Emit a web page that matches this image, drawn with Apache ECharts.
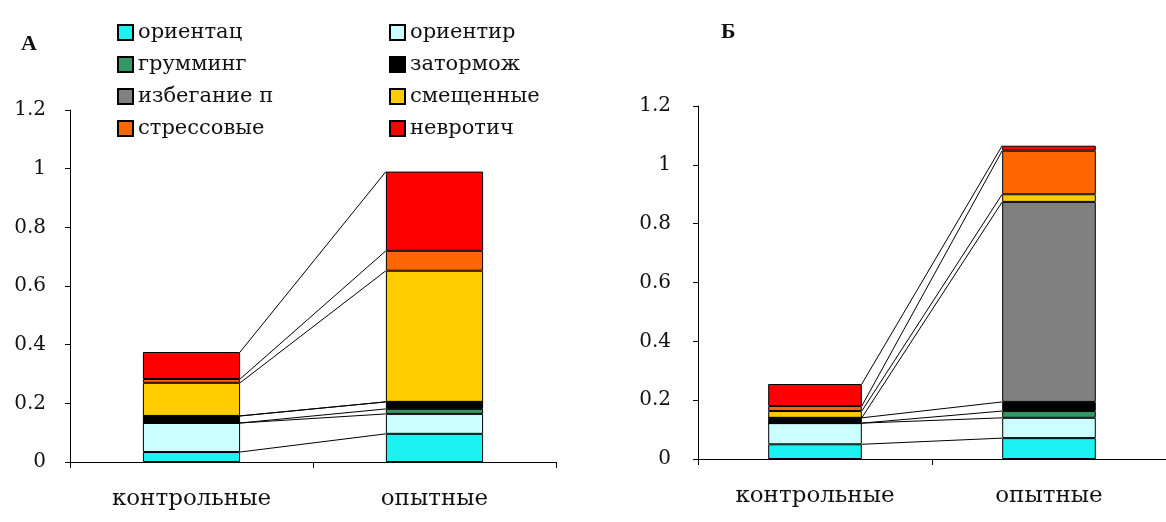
<!DOCTYPE html>
<html>
<head>
<meta charset="utf-8">
<script src="https://cdn.jsdelivr.net/npm/echarts@6/dist/echarts.min.js"></script>
<style>
  html, body { margin: 0; padding: 0; background: #fff; }
  #chart { width: 1166px; height: 522px; }
</style>
</head>
<body>
<div id="chart"></div>
<script>
// Behaviour categories (stack order, bottom to top)
const seriesNames = ['ориентац', 'ориентир', 'грумминг', 'затормож', 'избегание п', 'смещенные', 'стрессовые', 'невротич'];
const seriesColors = ['#1CF2F2', '#CCFFFF', '#339966', '#000000', '#808080', '#FFCC00', '#FF6600', '#FF0000'];
const groups = ['контрольные', 'опытные'];
const yTicks = ['0', '0.2', '0.4', '0.6', '0.8', '1', '1.2'];

// Panel А: per-category values for control and experimental groups
const controlA = [0.034, 0.099, 0, 0.024, 0, 0.113, 0.013, 0.092];
const experimentA = [0.096, 0.068, 0.017, 0.024, 0, 0.447, 0.068, 0.270];

// Panel Б
const controlB = [0.050, 0.072, 0, 0.018, 0, 0.023, 0.017, 0.075];
const experimentB = [0.071, 0.069, 0.023, 0.031, 0.680, 0.026, 0.148, 0.017];

const FONT = 'DejaVu Serif';
const BAR_FRACTION = 0.4;

function cumulative(arr) {
  let s = 0;
  return arr.map(v => (s += v));
}

function yAxisCfg(gridIndex, margin) {
  return {
    type: 'value', gridIndex, min: 0, max: 1.2, interval: 0.2,
    axisLine: { show: true, lineStyle: { color: '#000', width: 1 } },
    axisTick: { show: true, length: 5, lineStyle: { color: '#000' } },
    splitLine: { show: false },
    axisLabel: {
      color: '#111', fontFamily: FONT, fontSize: 20, margin,
      formatter: (v) => yTicks[Math.round(v / 0.2)]
    }
  };
}

function xAxisCfg(gridIndex) {
  return {
    type: 'category', gridIndex, data: groups, boundaryGap: true,
    axisLine: { show: true, lineStyle: { color: '#000', width: 1 } },
    axisTick: { show: true, length: 6, alignWithLabel: false, lineStyle: { color: '#000' } },
    axisLabel: { color: '#111', fontFamily: FONT, fontSize: 23, margin: 26 }
  };
}

function barSeries(idx, ctrl, exp, stack) {
  return seriesNames.map((name, i) => ({
    name, type: 'bar', stack, xAxisIndex: idx, yAxisIndex: idx,
    barWidth: (BAR_FRACTION * 100) + '%',
    itemStyle: { color: seriesColors[i], borderColor: '#000', borderWidth: 1 },
    emphasis: { disabled: true },
    data: [ctrl[i], exp[i]]
  }));
}

// Series lines joining the top of each segment across the two bars
function seriesLines(idx, ctrl, exp) {
  const c = cumulative(ctrl), e = cumulative(exp);
  return {
    type: 'custom', xAxisIndex: idx, yAxisIndex: idx, silent: true, z: 1,
    encode: { x: 0, y: [1, 2] },
    data: c.map((v, i) => [0, v, e[i]]),
    renderItem: (params, api) => {
      const half = api.size([1, 0])[0] * BAR_FRACTION / 2;
      const p0 = api.coord([0, api.value(1)]);
      const p1 = api.coord([1, api.value(2)]);
      return {
        type: 'line',
        shape: { x1: p0[0] + half, y1: p0[1], x2: p1[0] - half, y2: p1[1] },
        style: { stroke: '#000', lineWidth: 1 }
      };
    }
  };
}

const legendText = { color: '#111', fontFamily: FONT, fontSize: 21 };
const legendBase = {
  orient: 'vertical', top: 17, itemWidth: 15, itemHeight: 15, itemGap: 11,
  icon: 'rect', textStyle: legendText, selectedMode: false
};

const option = {
  animation: false,
  backgroundColor: '#fff',
  title: [
    { text: 'А', left: 16, top: 28, textStyle: { fontFamily: 'Liberation Serif', fontSize: 22, fontWeight: 'bold', color: '#111' } },
    { text: 'Б', left: 716, top: 16, textStyle: { fontFamily: 'Liberation Serif', fontSize: 22, fontWeight: 'bold', color: '#111' } }
  ],
  legend: [
    Object.assign({}, legendBase, { left: 112, data: [seriesNames[0], seriesNames[2], seriesNames[4], seriesNames[6]] }),
    Object.assign({}, legendBase, { left: 384, data: [seriesNames[1], seriesNames[3], seriesNames[5], seriesNames[7]] })
  ],
  grid: [
    { left: 70, top: 110, width: 486, bottom: 60 },
    { left: 698, top: 106, width: 478, bottom: 63 }
  ],
  xAxis: [xAxisCfg(0), xAxisCfg(1)],
  yAxis: [yAxisCfg(0, 24), yAxisCfg(1, 27)],
  series: [
    ...barSeries(0, controlA, experimentA, 'A'),
    seriesLines(0, controlA, experimentA),
    ...barSeries(1, controlB, experimentB, 'B'),
    seriesLines(1, controlB, experimentB)
  ]
};

echarts.init(document.getElementById('chart')).setOption(option);
</script>
</body>
</html>
